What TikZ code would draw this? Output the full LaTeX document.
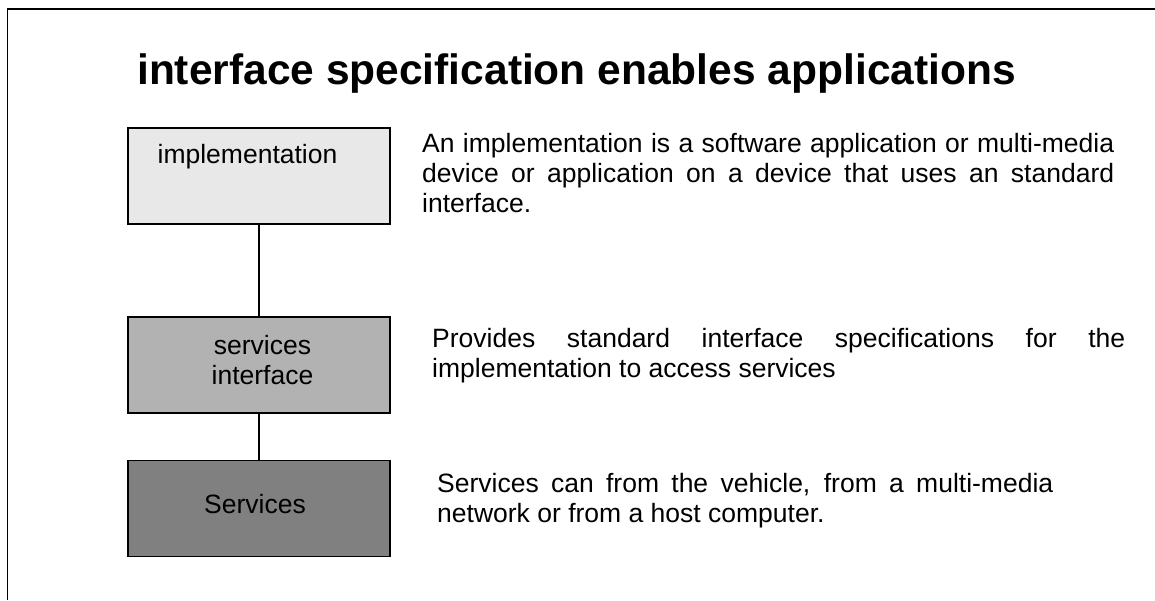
\documentclass[tikz,border=0pt]{standalone}
\usepackage{fontspec}
\setmainfont{Liberation Sans}
\usetikzlibrary{positioning, calc}

\definecolor{impllight}{gray}{0.91}
\definecolor{ifmid}{gray}{0.70}
\definecolor{srvdark}{gray}{0.50}

\begin{document}
\begin{tikzpicture}[x=1pt, y=1pt, node distance=189pt, on grid,
  layer/.style={draw, line width=1.5pt, minimum width=262pt, minimum height=96pt, inner sep=0pt},
  link/.style={line width=1.2pt},
  boxtext/.style={font=\fontsize{26.5}{30}\selectfont, align=center, inner sep=0pt},
  desc/.style={font={\fontsize{26.5}{30}\selectfont\hyphenpenalty10000 \exhyphenpenalty10000 \tolerance10000 },
    align=justify, anchor=north west, inner sep=0pt}]
  \useasboundingbox (0,0) rectangle (1155,-600);
  \draw[line width=1.8pt] (7.5,-600) -- (7.5,-9) -- (1155,-9);

  \node[font=\fontsize{42.5}{50}\selectfont\bfseries, anchor=base west, inner sep=0pt] (title)
    at (137,-84) {interface specification enables applications};

  \node[layer, fill=impllight] (impl) at (259,-176) {};
  \node[layer, fill=ifmid] (srvif) [below=of impl] {};
  \node[layer, fill=srvdark] (srv) [below=143.5pt of srvif] {};

  \node[boxtext] (impltext) at ($(impl)+(-11.5,19.7)$) {implementation};
  \node[boxtext] (srviftext) at ($(srvif)+(3.5,4.5)$) {services\\interface};
  \node[boxtext] (srvtext) at ($(srv)+(-4,4.2)$) {Services};

  \draw[link] (impl) -- (srvif);
  \draw[link] (srvif) -- (srv);

  \node[desc, text width=692pt] (impldesc) at (422,-133.5)
    {An implementation is a software application or multi-media\linebreak
     device or application on a device that uses an standard\linebreak
     interface.};
  \node[desc, text width=693pt] (srvifdesc) at (432,-328.5)
    {Provides standard interface specifications for the\linebreak
     implementation to access services};
  \node[desc, text width=616pt] (srvdesc) at (437,-473.5)
    {Services can from the vehicle, from a multi-media\linebreak
     network or from a host computer.};
\end{tikzpicture}
\end{document}
